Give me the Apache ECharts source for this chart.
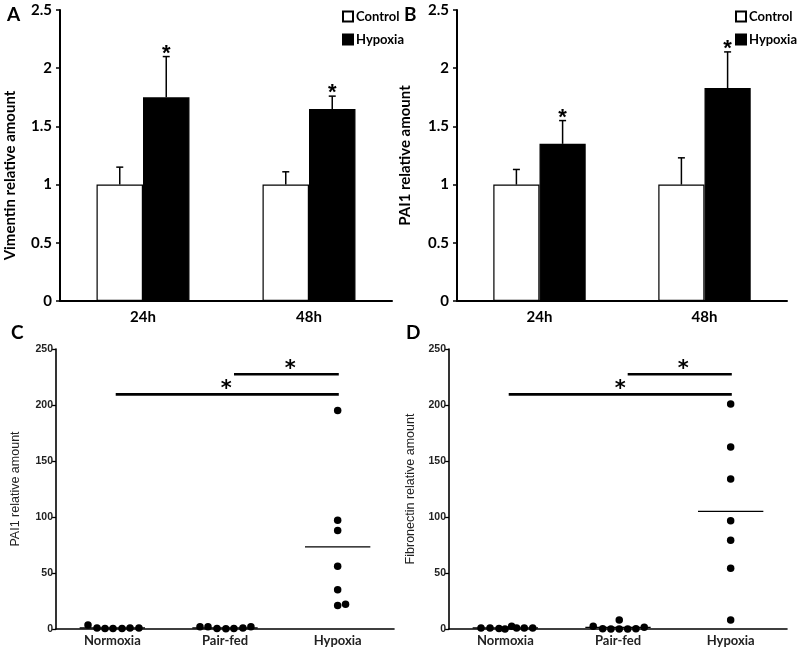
<!DOCTYPE html>
<html>
<head>
<meta charset="utf-8">
<script src="https://cdn.jsdelivr.net/npm/echarts@6/dist/echarts.min.js"></script>
<style>
  html, body { margin: 0; padding: 0; background: #fff; }
  #chart { width: 798px; height: 662px; }
</style>
</head>
<body>
<div id="chart"></div>
<script>
// --- top panels (A: Vimentin, B: PAI1), mean + SD
const timeCats = ['24h', '48h'];
const vimControl = [1, 1];
const vimControlErr = [0.15, 0.11];
const vimHypoxia = [1.75, 1.65];
const vimHypoxiaErr = [0.35, 0.11];
const paiControl = [1, 1];
const paiControlErr = [0.13, 0.23];
const paiHypoxia = [1.35, 1.83];
const paiHypoxiaErr = [0.2, 0.31];
const hypoxiaStars = [1, 1];

// --- bottom panels (C: PAI1, D: Fibronectin), individual animals
const groups = ['Normoxia', 'Pair-fed', 'Hypoxia'];
const cNormoxia = [3.5, 1, 0.5, 0.5, 0.5, 0.8, 1];
const cNormoxiaJit = [-0.216, -0.136, -0.065, 0.006, 0.086, 0.157, 0.236];
const cPairfed = [2, 2, 0.5, 0.3, 0.5, 1, 2];
const cPairfedJit = [-0.222, -0.151, -0.071, 0.008, 0.079, 0.159, 0.23];
const cHypoxia = [195, 97, 88, 56, 35, 21, 22];
const cHypoxiaJit = [0, 0, 0, 0, 0, 0, 0.07];
const cMeans = [1, 1, 73.3];

const dNormoxia = [1, 1, 0.5, 0, 2.5, 1, 0.8, 1];
const dNormoxiaJit = [-0.216, -0.136, -0.056, -0.003, 0.056, 0.1, 0.168, 0.243];
const dPairfed = [2.5, 0.3, 0, 0, 8, 0, 0.3, 1.5];
const dPairfedJit = [-0.22, -0.136, -0.063, 0.011, 0.011, 0.086, 0.159, 0.233];
const dHypoxia = [201, 162.5, 134, 96.7, 79.2, 54.2, 8];
const dHypoxiaJit = [0, 0, 0, 0, 0, 0, 0];
const dMeans = [1, 1.5, 105];

// significance bars: [from, to, level] on the 0..3 group scale
const cSig = [[0.53, 2.51, 209.5], [1.58, 2.51, 227.4]];
const cStars = [[1.51, 209.5], [2.08, 227.4]];
const dSig = [[0.53, 2.51, 209.5], [1.586, 2.51, 227.4]];
const dStars = [[1.52, 209.5], [2.08, 227.4]];

const chart = echarts.init(document.getElementById('chart'));
const gapRatio = 0.44;
const boldFont = 'Lato';
const plainFont = 'Liberation Sans';

function errorSeries(ax, vals, errs, side, stars) {
  return {
    type: 'custom', xAxisIndex: ax, yAxisIndex: ax, z: 5, silent: true,
    data: vals.map((v, i) => [i, v, errs[i], stars ? stars[i] : 0]),
    renderItem: function (params, api) {
      const i = api.value(0), v = api.value(1), e = api.value(2);
      const base = api.coord([i, v]);
      const top = api.coord([i, v + e]);
      const bw = api.size([1, 0])[0] * (1 - gapRatio) / 2;
      const x = base[0] + side * bw / 2;
      const st = { stroke: '#000', lineWidth: 1.5 };
      const kids = [
        { type: 'line', shape: { x1: x, y1: base[1], x2: x, y2: top[1] }, style: st },
        { type: 'line', shape: { x1: x - 3.5, y1: top[1], x2: x + 3.5, y2: top[1] }, style: st }
      ];
      if (api.value(3)) {
        kids.push({ type: 'text', x: x, y: top[1] + 8, style: {
          text: '*', fill: '#000', fontSize: 22, fontWeight: 'bold', fontFamily: plainFont,
          align: 'center', verticalAlign: 'bottom' } });
      }
      return { type: 'group', children: kids };
    }
  };
}

function barSeries(ax, ctrl, ctrlErr, hyp, hypErr) {
  return [
    { name: 'Control', type: 'bar', xAxisIndex: ax, yAxisIndex: ax, data: ctrl,
      barGap: 0, barCategoryGap: (gapRatio * 100) + '%',
      itemStyle: { color: '#fff', borderColor: '#000', borderWidth: 1.2 } },
    { name: 'Hypoxia', type: 'bar', xAxisIndex: ax, yAxisIndex: ax, data: hyp,
      barGap: 0, barCategoryGap: (gapRatio * 100) + '%',
      itemStyle: { color: '#000', borderColor: '#000', borderWidth: 1.2 } },
    errorSeries(ax, ctrl, ctrlErr, -1, null),
    errorSeries(ax, hyp, hypErr, 1, hypoxiaStars)
  ];
}

function dots(ax, ay, lists, jits) {
  const data = [];
  lists.forEach((vals, g) => vals.forEach((v, k) => data.push([g + 0.5 + jits[g][k], v])));
  return { type: 'scatter', xAxisIndex: ax, yAxisIndex: ay, data: data, symbolSize: 7.5,
    clip: false, itemStyle: { color: '#000', opacity: 1 }, z: 4, silent: true };
}

function meanLines(ax, ay, means) {
  return means.map((m, g) => ({
    type: 'line', xAxisIndex: ax, yAxisIndex: ay, symbol: 'none', silent: true, z: 3,
    data: [[g + 0.5 - 0.29, m], [g + 0.5 + 0.29, m]],
    lineStyle: { color: '#000', width: 1.2 }
  }));
}

function sigLines(ax, ay, sig, stars) {
  const out = sig.map(s => ({
    type: 'line', xAxisIndex: ax, yAxisIndex: ay, symbol: 'none', silent: true,
    data: [[s[0], s[2]], [s[1], s[2]]],
    lineStyle: { color: '#000', width: 2.6 }
  }));
  out.push({
    type: 'scatter', xAxisIndex: ax, yAxisIndex: ay, data: stars, symbolSize: 0, silent: true,
    itemStyle: { color: '#000' },
    label: { show: true, formatter: '*', position: 'top', distance: 0, offset: [0, 6],
      color: '#000', opacity: 1, fontSize: 21, fontWeight: 'bold', fontFamily: 'DejaVu Sans' }
  });
  return out;
}

const barY = (name, pad) => ({
  type: 'value', min: 0, max: 2.5, interval: 0.5,
  name: name, nameLocation: 'middle', nameGap: 42,
  nameTextStyle: { fontFamily: boldFont, fontWeight: 'bold', fontSize: 15, color: '#000', padding: pad },
  axisLine: { show: true, lineStyle: { color: '#000', width: 2 } },
  axisTick: { show: true, length: 4, lineStyle: { color: '#000', width: 1.5 } },
  axisLabel: { fontFamily: boldFont, fontWeight: 'bold', fontSize: 15, color: '#000', margin: 8 },
  splitLine: { show: false }
});
const barX = {
  type: 'category', data: timeCats,
  axisLine: { lineStyle: { color: '#000', width: 2 } },
  axisTick: { show: false },
  axisLabel: { fontFamily: boldFont, fontWeight: 'bold', fontSize: 15, color: '#000', margin: 9 }
};
const dotY = (name, gap) => ({
  type: 'value', min: 0, max: 250, interval: 50,
  name: name, nameLocation: 'middle', nameGap: gap,
  nameTextStyle: { fontFamily: plainFont, fontSize: 12.5, color: '#222' },
  axisLine: { show: true, lineStyle: { color: '#000', width: 1.6 } },
  axisTick: { show: true, length: 4, lineStyle: { color: '#000', width: 1.3 } },
  axisLabel: { fontFamily: plainFont, fontWeight: 'bold', fontSize: 10.5, color: '#222', margin: 3 },
  splitLine: { show: false }
});
const dotX = {
  type: 'category', data: groups,
  axisLine: { lineStyle: { color: '#000', width: 1.6 } },
  axisTick: { show: false },
  axisLabel: { fontFamily: boldFont, fontWeight: 'bold', fontSize: 13, color: '#222', margin: 5 }
};
const hiddenX = { type: 'value', min: 0, max: 3, show: false };

const legendBase = {
  orient: 'vertical', icon: 'rect', itemWidth: 10, itemHeight: 10, itemGap: 10,
  selectedMode: false, data: ['Control', 'Hypoxia'],
  textStyle: { fontFamily: boldFont, fontWeight: 'bold', fontSize: 13, color: '#000', padding: [0, 0, 0, -2] }
};

const letter = (t, x, y) => ({ type: 'text', left: x, top: y,
  style: { text: t, fontFamily: boldFont, fontWeight: 'bold', fontSize: 19, fill: '#000' } });

chart.setOption({
  animation: false,
  backgroundColor: '#fff',
  grid: [
    { left: 60, top: 10, width: 332, height: 291 },
    { left: 457, top: 10, width: 330, height: 291 },
    { left: 56, top: 349, width: 338, height: 280 },
    { left: 449, top: 349, width: 338, height: 280 }
  ],
  xAxis: [
    Object.assign({ gridIndex: 0 }, barX),
    Object.assign({ gridIndex: 1 }, barX),
    Object.assign({ gridIndex: 2 }, dotX),
    Object.assign({ gridIndex: 2 }, hiddenX),
    Object.assign({ gridIndex: 3 }, dotX),
    Object.assign({ gridIndex: 3 }, hiddenX)
  ],
  yAxis: [
    Object.assign({ gridIndex: 0 }, barY('Vimentin relative amount', [0, 40, 0, 0])),
    Object.assign({ gridIndex: 1 }, barY('PAI1 relative amount', [0, 0, 0, 0]), { nameGap: 44 }),
    Object.assign({ gridIndex: 2 }, dotY('PAI1 relative amount', 34)),
    Object.assign({ gridIndex: 3 }, dotY('Fibronectin relative amount', 32))
  ],
  legend: [
    Object.assign({ left: 337, top: 5 }, legendBase),
    Object.assign({ left: 730, top: 5 }, legendBase)
  ],
  graphic: [
    letter('A', 7, 5), letter('B', 404, 5), letter('C', 11, 323), letter('D', 406, 323)
  ],
  series: [].concat(
    barSeries(0, vimControl, vimControlErr, vimHypoxia, vimHypoxiaErr),
    barSeries(1, paiControl, paiControlErr, paiHypoxia, paiHypoxiaErr),
    meanLines(3, 2, cMeans),
    sigLines(3, 2, cSig, cStars),
    [dots(3, 2, [cNormoxia, cPairfed, cHypoxia], [cNormoxiaJit, cPairfedJit, cHypoxiaJit])],
    meanLines(5, 3, dMeans),
    sigLines(5, 3, dSig, dStars),
    [dots(5, 3, [dNormoxia, dPairfed, dHypoxia], [dNormoxiaJit, dPairfedJit, dHypoxiaJit])]
  )
});
</script>
</body>
</html>
